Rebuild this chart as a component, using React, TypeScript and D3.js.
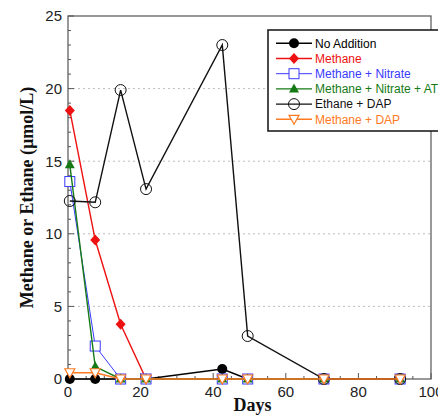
import React from "react";
import * as d3 from "d3";

const days = [0.5, 7.5, 14.5, 21.5, 42.5, 49.5, 70.5, 91.5];
const noAddition = [0, 0, 0, 0, 0.69, 0, 0, 0];
const methane = [18.5, 9.57, 3.77, 0, 0, 0, 0, 0];
const methaneNitrate = [13.6, 2.27, 0, 0, 0, 0, 0, 0];
const methaneNitrateATU = [14.75, 0.85, 0, 0, 0, 0, 0, 0];
const ethaneDAP = [12.26, 12.17, 19.9, 13.08, 23.0, 2.96, 0, 0];
const methaneDAP = [0.43, 0.43, 0, 0, 0, 0, 0, 0];

const xTicks = [0, 20, 40, 60, 80, 100];
const yTicks = [0, 5, 10, 15, 20, 25];

type Marker = "dot" | "diamond" | "square" | "triangle" | "circle" | "down";

interface Series {
  name: string;
  values: number[];
  color: string;
  width: number;
  marker: Marker;
}

const series: Series[] = [
  { name: "No Addition", values: noAddition, color: "#000000", width: 1.6, marker: "dot" },
  { name: "Methane", values: methane, color: "#ee1111", width: 1.4, marker: "diamond" },
  { name: "Methane + Nitrate", values: methaneNitrate, color: "#3a3aff", width: 1, marker: "square" },
  { name: "Methane + Nitrate + ATU", values: methaneNitrateATU, color: "#157a15", width: 1.4, marker: "triangle" },
  { name: "Ethane + DAP", values: ethaneDAP, color: "#111111", width: 1.4, marker: "circle" },
  { name: "Methane + DAP", values: methaneDAP, color: "#ff7a22", width: 1.6, marker: "down" },
];

const W = 438;
const H = 416;
const margin = { left: 68, right: 7, top: 16, bottom: 37 };

function MarkerShape({ kind, x, y, color }: { kind: Marker; x: number; y: number; color: string }) {
  switch (kind) {
    case "dot":
      return <circle cx={x} cy={y} r={5} fill={color} />;
    case "diamond":
      return <path d={`M${x},${y - 5.5}L${x + 5},${y}L${x},${y + 5.5}L${x - 5},${y}Z`} fill={color} />;
    case "square":
      return <rect x={x - 5} y={y - 5} width={10} height={10} fill="white" stroke={color} strokeWidth={1} />;
    case "triangle":
      return <path d={`M${x},${y - 5.5}L${x + 5},${y + 3.5}L${x - 5},${y + 3.5}Z`} fill={color} />;
    case "circle":
      return <circle cx={x} cy={y} r={5.5} fill="none" stroke={color} strokeWidth={1} />;
    case "down":
      return <path d={`M${x - 5},${y - 4}L${x + 5},${y - 4}L${x},${y + 5}Z`} fill="white" stroke={color} strokeWidth={1.2} />;
  }
}

export default function App() {
  const x = d3.scaleLinear().domain([0, 100]).range([margin.left, W - margin.right]);
  const y = d3.scaleLinear().domain([0, 25]).range([H - margin.bottom, margin.top]);
  const line = d3
    .line<[number, number]>()
    .x((d) => x(d[0]))
    .y((d) => y(d[1]));

  const x0 = x(0);
  const x1 = x(100);
  const y0 = y(0);
  const y1 = y(25);

  const yMinor = d3.range(0, 26, 1);
  const xMinor = d3.range(0, 101, 5);

  const legendX = 268;
  const legendY = 30;
  const rowH = 15.2;

  return (
    <svg
      width={W}
      height={H}
      style={{ position: "absolute", left: 0, top: 0, background: "white" }}
      fontFamily="'Liberation Sans', Arial, sans-serif"
    >
      {/* dotted horizontal grid */}
      {yTicks.slice(1, -1).map((t) => (
        <line key={`g${t}`} x1={x0} x2={x1} y1={y(t)} y2={y(t)} stroke="#bdbdbd" strokeWidth={1} strokeDasharray="2,3" />
      ))}

      {/* frame */}
      <rect x={x0} y={y1} width={x1 - x0} height={y0 - y1} fill="none" stroke="#555" strokeWidth={1.2} />

      {/* y ticks */}
      {yMinor.map((t) => (
        <line key={`ym${t}`} x1={x0} x2={x0 + (t % 5 === 0 ? 6 : 3)} y1={y(t)} y2={y(t)} stroke="#555" strokeWidth={1} />
      ))}
      {yTicks.map((t) => (
        <text key={`yl${t}`} x={x0 - 6} y={y(t)} dy="0.36em" textAnchor="end" fontSize={15} fill="#222">
          {t}
        </text>
      ))}

      {/* x ticks */}
      {xMinor.map((t) => (
        <line key={`xm${t}`} x1={x(t)} x2={x(t)} y1={y0} y2={y0 - (t % 20 === 0 ? 6 : 3)} stroke="#555" strokeWidth={1} />
      ))}
      {xTicks.map((t) => (
        <text key={`xl${t}`} x={x(t)} y={y0 + 18} textAnchor="middle" fontSize={15} fill="#222">
          {t}
        </text>
      ))}

      {/* axis titles */}
      <text
        x={(x0 + x1) / 2 + 3}
        y={H - 5}
        textAnchor="middle"
        fontFamily="'Liberation Serif', 'Times New Roman', serif"
        fontWeight="bold"
        fontSize={18}
        fill="#111"
      >
        Days
      </text>
      <text
        transform={`translate(33,${(y0 + y1) / 2}) rotate(-90)`}
        textAnchor="middle"
        fontFamily="'Liberation Serif', 'Times New Roman', serif"
        fontWeight="bold"
        fontSize={18}
        fill="#111"
      >
        Methane or Ethane (µmol/L)
      </text>

      {/* series lines */}
      {series.map((s) => (
        <g key={s.name}>
          <path
            d={line(days.map((d, i) => [d, s.values[i]] as [number, number])) || ""}
            fill="none"
            stroke={s.color}
            strokeWidth={s.width}
          />
          {days.map((d, i) => (
            <MarkerShape key={i} kind={s.marker} x={x(d)} y={y(s.values[i])} color={s.color} />
          ))}
        </g>
      ))}

      {/* legend */}
      <rect x={legendX} y={legendY} width={200} height={101} fill="white" stroke="#111" strokeWidth={1.5} />
      {series.map((s, i) => {
        const cy = legendY + 13.3 + i * rowH;
        return (
          <g key={`lg${s.name}`}>
            <line x1={276} x2={312} y1={cy} y2={cy} stroke={s.color} strokeWidth={s.width} />
            <MarkerShape kind={s.marker} x={294} y={cy} color={s.color} />
            <text x={315} y={cy} dy="0.36em" fontSize={12} fill={s.color}>
              {s.name}
            </text>
          </g>
        );
      })}
    </svg>
  );
}
